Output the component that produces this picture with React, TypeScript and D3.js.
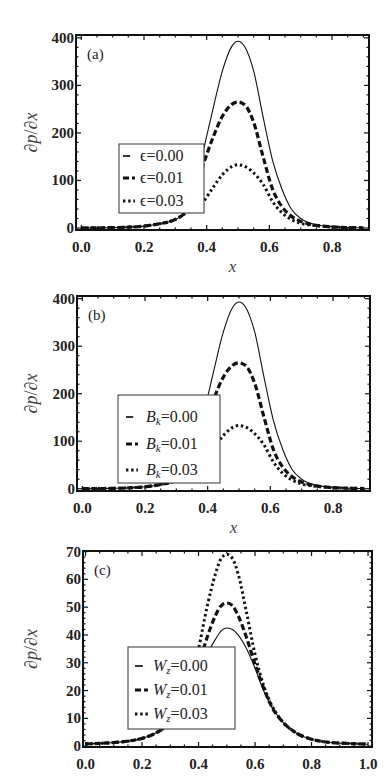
import * as d3 from "d3";
import React from "react";

// sample positions and curve values
const xsA = [0, 0.05, 0.1, 0.15, 0.2, 0.25, 0.3, 0.33, 0.36, 0.39, 0.42, 0.45, 0.48, 0.5, 0.52, 0.55, 0.58, 0.61, 0.64, 0.67, 0.7, 0.75, 0.8, 0.85, 0.9];
const eps000 = [0, 0.3, 0.8, 1.8, 4, 9, 18, 32, 80, 165, 250, 330, 382, 393, 383, 330, 234, 143, 82, 40, 20, 7, 3, 1, 0.5];
const eps001 = [0, 0.3, 0.8, 1.8, 4, 9, 18, 32, 72, 135, 190, 235, 260, 265, 260, 222, 150, 82, 45, 25, 14, 5.5, 2.5, 1, 0.5];
const eps003 = [0, 0.3, 0.8, 1.8, 4, 9, 18, 30, 40, 56, 85, 112, 129, 133, 130, 116, 92, 56, 32, 18, 10, 5, 2, 1, 0.5];

const xsB = xsA;
const bk000 = [0, 0.3, 0.8, 1.8, 4, 9, 18, 32, 80, 165, 250, 330, 382, 393, 383, 330, 234, 143, 82, 40, 20, 7, 3, 1, 0.5];
const bk001 = [0, 0.3, 0.8, 1.8, 4, 9, 18, 32, 72, 135, 190, 235, 260, 265, 260, 222, 150, 82, 45, 25, 14, 5.5, 2.5, 1, 0.5];
const bk003 = [0, 0.3, 0.8, 1.8, 4, 9, 18, 30, 40, 56, 85, 112, 129, 133, 130, 116, 92, 56, 32, 18, 10, 5, 2, 1, 0.5];

const xsC = [0, 0.05, 0.1, 0.15, 0.2, 0.25, 0.3, 0.35, 0.4, 0.43, 0.46, 0.48, 0.5, 0.52, 0.54, 0.57, 0.6, 0.63, 0.66, 0.7, 0.75, 0.8, 0.85, 0.9, 0.95, 1.0];
const wz000 = [0.8, 1, 1.3, 1.8, 2.8, 4.8, 8.5, 15, 26, 33, 38.5, 41.5, 42.5, 42, 40, 35, 28, 20, 14, 8.5, 4.5, 2.5, 1.5, 1.1, 0.9, 0.7];
const wz001 = [0.8, 1, 1.3, 1.8, 2.8, 4.8, 8.5, 15, 29, 39, 47, 50.5, 51.5, 50.5, 47, 39, 29.5, 21, 14, 8.5, 4.5, 2.5, 1.5, 1.1, 0.9, 0.7];
const wz003 = [0.8, 1, 1.3, 1.8, 2.8, 4.8, 8.5, 16, 35, 50, 62, 67.5, 69, 67.5, 62, 48, 33, 22, 14.5, 8.5, 4.5, 2.5, 1.5, 1.1, 0.9, 0.7];

const xTicksAB = [0, 0.2, 0.4, 0.6, 0.8];
const xTicksC = [0, 0.2, 0.4, 0.6, 0.8, 1.0];
const yTicksAB = [0, 100, 200, 300, 400];
const yTicksC = [0, 10, 20, 30, 40, 50, 60, 70];
const paramLabels = ["0.00", "0.01", "0.03"];

const SERIF = "Liberation Serif, Times New Roman, Tinos, DejaVu Serif, Noto Serif, serif";
const lineStyles = [
  { width: 1.1, dash: undefined as string | undefined },
  { width: 3.2, dash: "6,3" },
  { width: 3, dash: "2.4,2.8" },
];

type LegendBox = { x: number; y: number; w: number; h: number; rows: number[]; symX: number; symW: number; textX: number };

const Panel: React.FC<{
  left: number; right: number; top: number; bottom: number;
  xDomain: [number, number]; yDomain: [number, number];
  xTicks: number[]; xMinor: number; yTicks: number[]; yMinor: number;
  xs: number[]; series: number[][];
  tag: string; sym: string; sub?: string; italicSym: boolean;
  legend: LegendBox; showXLabel: boolean;
}> = (p) => {
  const x = d3.scaleLinear().domain(p.xDomain).range([p.left, p.right]);
  const y = d3.scaleLinear().domain(p.yDomain).range([p.bottom, p.top]);
  const line = d3
    .line<number>()
    .x((_, i) => x(p.xs[i]))
    .y((d) => y(d))
    .curve(d3.curveMonotoneX);

  const minorX = d3.range(Math.ceil(p.xDomain[0] / p.xMinor), Math.floor(p.xDomain[1] / p.xMinor) + 1).map((k) => k * p.xMinor);
  const minorY = d3.range(Math.ceil(p.yDomain[0] / p.yMinor), Math.floor(p.yDomain[1] / p.yMinor) + 1).map((k) => k * p.yMinor);
  const isMajor = (v: number, ticks: number[]) => ticks.some((t) => Math.abs(t - v) < 1e-6);
  const fmtX = d3.format(".1f");
  const midY = (p.top + p.bottom) / 2;
  const lg = p.legend;

  return (
    <g style={{ fontFamily: SERIF }}>
      {p.series.map((vals, i) => (
        <path
          key={i}
          d={line(vals) || ""}
          fill="none"
          stroke="#111"
          strokeWidth={lineStyles[i].width}
          strokeDasharray={lineStyles[i].dash}
        />
      ))}

      {/* legend */}
      <rect x={lg.x} y={lg.y} width={lg.w} height={lg.h} fill="#fff" stroke="#333" strokeWidth={1} />
      {lg.rows.map((ry, i) => (
        <g key={i}>
          <line
            x1={lg.symX}
            x2={lg.symX + (i === 0 ? lg.symW * 0.6 : lg.symW)}
            y1={ry}
            y2={ry}
            stroke="#111"
            strokeWidth={lineStyles[i].width + (i === 0 ? 0.6 : 0)}
            strokeDasharray={lineStyles[i].dash}
          />
          <text x={lg.textX} y={ry + 5} fontSize={16} fill="#222">
            <tspan fontStyle={p.italicSym ? "italic" : "normal"}>{p.sym}</tspan>
            {p.sub && (
              <tspan fontStyle="italic" fontSize={11} dy={3}>{p.sub}</tspan>
            )}
            <tspan dy={p.sub ? -3 : 0}>={paramLabels[i]}</tspan>
          </text>
        </g>
      ))}

      {/* frame */}
      <rect x={p.left} y={p.top} width={p.right - p.left} height={p.bottom - p.top} fill="none" stroke="#111" strokeWidth={2} />
      {minorX.map((v) => {
        const len = isMajor(v, p.xTicks) ? 5 : 2.5;
        return (
          <g key={"x" + v}>
            <line x1={x(v)} x2={x(v)} y1={p.bottom} y2={p.bottom - len} stroke="#111" strokeWidth={1.2} />
            <line x1={x(v)} x2={x(v)} y1={p.top} y2={p.top + len} stroke="#111" strokeWidth={1.2} />
          </g>
        );
      })}
      {minorY.map((v) => {
        const len = isMajor(v, p.yTicks) ? 5 : 2.5;
        return (
          <g key={"y" + v}>
            <line x1={p.left} x2={p.left + len} y1={y(v)} y2={y(v)} stroke="#111" strokeWidth={1.2} />
            <line x1={p.right} x2={p.right - len} y1={y(v)} y2={y(v)} stroke="#111" strokeWidth={1.2} />
          </g>
        );
      })}
      {p.xTicks.map((t) => (
        <text key={"xl" + t} x={x(t)} y={p.bottom + 22} textAnchor="middle" fontWeight="bold" fontSize={15} fill="#222">
          {fmtX(t)}
        </text>
      ))}
      {p.yTicks.map((t) => (
        <text key={"yl" + t} x={p.left - 2} y={y(t) + 5} textAnchor="end" fontWeight="bold" fontSize={15} fill="#222">
          {t}
        </text>
      ))}

      <text x={p.left + 11} y={p.top + 24} fontSize={15} fill="#222">
        {p.tag}
      </text>

      <text transform={`translate(37, ${midY}) rotate(-90)`} textAnchor="middle" fontSize={18} fill="#444">
        ∂<tspan fontStyle="italic">p</tspan>/∂<tspan fontStyle="italic">x</tspan>
      </text>
      {p.showXLabel && (
        <text x={(p.left + p.right) / 2 + 10} y={p.bottom + 42} textAnchor="middle" fontStyle="italic" fontSize={17} fill="#444">
          x
        </text>
      )}
    </g>
  );
};

export default function App() {
  return (
    <svg width={387} height={781} style={{ position: "absolute", left: 0, top: 0, background: "#fff" }}>
      <rect width={387} height={781} fill="#fff" />
      <Panel
        left={76} right={369} top={35} bottom={230}
        xDomain={[-0.017, 0.918]} yDomain={[-4.2, 406]}
        xTicks={xTicksAB} xMinor={0.05} yTicks={yTicksAB} yMinor={20}
        xs={xsA} series={[eps000, eps001, eps003]}
        tag="(a)" sym="ϵ" italicSym={false}
        legend={{ x: 119, y: 144, w: 85, h: 69, rows: [156, 178, 201], symX: 123, symW: 12, textX: 140 }}
        showXLabel={true}
      />
      <Panel
        left={77} right={370} top={296} bottom={491}
        xDomain={[-0.017, 0.918]} yDomain={[-4.8, 405.7]}
        xTicks={xTicksAB} xMinor={0.05} yTicks={yTicksAB} yMinor={20}
        xs={xsB} series={[bk000, bk001, bk003]}
        tag="(b)" sym="B" sub="k" italicSym={true}
        legend={{ x: 118, y: 395, w: 102, h: 88, rows: [417, 444, 470], symX: 126, symW: 12, textX: 146 }}
        showXLabel={true}
      />
      <Panel
        left={83} right={372} top={551} bottom={747}
        xDomain={[-0.009, 1.014]} yDomain={[-0.3, 70.2]}
        xTicks={xTicksC} xMinor={0.05} yTicks={yTicksC} yMinor={2}
        xs={xsC} series={[wz000, wz001, wz003]}
        tag="(c)" sym="W" sub="z" italicSym={true}
        legend={{ x: 128, y: 647, w: 107, h: 82, rows: [666, 690, 714], symX: 135, symW: 13, textX: 153 }}
        showXLabel={false}
      />
    </svg>
  );
}
